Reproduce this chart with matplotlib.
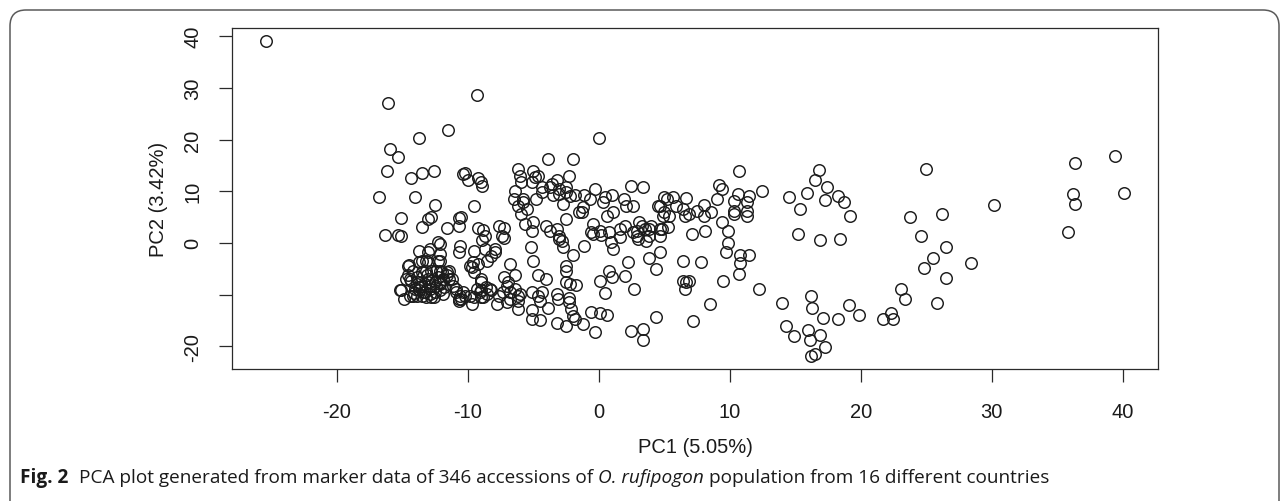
import matplotlib
matplotlib.use("Agg")
import matplotlib.pyplot as plt
from matplotlib.patches import FancyBboxPatch

# PC scores, grouped by region of the plot
pc1_upper_left = [-25.4, -16.1, -9.3, -11.5, -13.7, -15.9, -15.3, -16.2, -14.3, -13.5, -12.6, -10.4, -10.2, -10.0, -9.2,
                  -8.9, -9.0, -16.8, -14.0, -12.5, -9.5, -15.1, -13.5, -13.0, -12.8, -11.6, -10.7, -10.7, -16.3, -15.3,
                  -15.1, -10.5, -9.2, -8.8, -8.7, -8.9, -7.6, -7.2, -7.4, -7.2, -12.3, -10.6, -10.7]
pc2_upper_left = [39.0, 27.0, 28.7, 21.9, 20.3, 18.1, 16.7, 13.9, 12.6, 13.5, 14.0, 13.3, 13.6, 12.1, 12.6,
                  11.1, 11.7, 8.8, 8.8, 7.4, 7.2, 4.8, 3.0, 4.7, 5.1, 2.9, 3.2, 4.8, 1.5, 1.5,
                  1.3, 5.0, 2.9, 2.5, 1.4, 0.6, 3.3, 2.8, 1.4, 1.0, 0.1, -0.5, -1.8]

pc1_upper_mid = [0.05, -3.9, -2.0, -6.2, -6.0, -5.9, -5.0, -4.9, -6.4, -6.5, -5.8, -6.2, -5.9, -5.5, -4.8, -4.3,
                 -3.7, -3.2, -3.0, -2.5, -2.3, -1.8, -1.1, -1.2, -1.5, -0.7, -0.3, -2.5, -4.0, -3.2, -5.0, -5.6,
                 -4.3, -3.6, -2.5, -3.0, -2.2, -2.7, -1.3, -3.5, -5.8, -5.1, -4.6, -3.7, -5.1, -2.8, -3.0]
pc2_upper_mid = [20.3, 16.2, 16.2, 14.3, 13.0, 11.7, 14.0, 12.7, 10.1, 8.5, 8.5, 7.2, 5.6, 6.6, 8.5, 9.8,
                 10.8, 12.1, 10.4, 9.8, 13.0, 9.2, 9.2, 6.9, 5.9, 8.5, 10.4, 4.6, 3.3, 2.7, 4.0, 3.7,
                 10.8, 11.4, 10.8, 9.5, 9.0, 7.5, 5.9, 9.2, 7.9, 11.7, 13.0, 2.4, 2.4, 0.4, 1.4]

pc1_upper_right = [0.5, 1.0, 1.1, 1.9, 2.1, 2.6, 2.5, 3.4, 4.7, 5.2, 5.7, 5.9, 6.4, 6.7, 4.9, 5.4, -0.4, 0.1, 0.8,
                   1.6, 2.0, 2.6, 3.1, 3.5, 4.0, 4.7, 5.3, 0.3, 0.6, -0.6, 5.0, 4.5, 5.0, 8.0, 7.5, 8.6, 8.0, 6.9,
                   6.6, 9.4, 9.0, 7.1, 8.1, 9.9, -0.4, 0.2, 0.9, 1.6, 2.9, 3.6, 4.7, 3.8, 3.0, 4.8, 3.8, 3.3, 2.9]
pc2_upper_right = [8.8, 9.2, 5.9, 8.5, 7.2, 7.2, 11.1, 10.8, 7.2, 8.5, 8.8, 7.2, 6.6, 8.7, 5.3, 5.3, 3.7, 2.4, 2.1,
                   2.7, 3.3, 2.1, 4.0, 2.7, 3.3, 2.7, 3.0, 7.9, 5.3, 2.1, 8.8, 7.2, 5.9, 7.4, 6.1, 5.9, 5.3, 5.6,
                   5.3, 4.0, 8.6, 1.7, 2.3, 2.4, 1.7, 1.6, 0.2, 1.1, 1.4, 0.3, 1.4, 1.4, 0.8, 2.7, 2.7, 3.3, 2.4]

pc1_far_right = [10.7, 9.2, 9.4, 10.6, 11.5, 12.5, 10.3, 11.3, 11.3, 11.3, 10.3, 10.3, 14.5, 15.4, 15.9, 16.8,
                 16.5, 17.4, 17.3, 18.3, 18.7, 19.2, 23.8, 15.2, 16.9, 18.4, 25.0, 26.2, 24.6, 26.5, 25.5, 24.8,
                 26.5, 28.4, 25.8, 30.2, 36.4, 39.4, 36.2, 36.4, 40.1, 35.8]
pc2_far_right = [13.9, 11.2, 10.4, 9.5, 9.0, 10.1, 8.2, 7.9, 6.2, 5.3, 6.2, 5.6, 8.8, 6.6, 9.7, 14.2,
                 12.1, 10.8, 8.3, 9.0, 7.9, 5.2, 5.0, 1.7, 0.6, 0.8, 14.3, 5.6, 1.3, -0.8, -2.9, -4.9,
                 -6.8, -3.9, -11.6, 7.4, 15.4, 16.8, 9.5, 7.5, 9.7, 2.2]

pc1_lower_right = [9.9, 9.7, 10.8, 11.5, 10.8, 10.7, 9.5, 7.8, 6.4, 6.4, 6.9, 6.6, 12.2, 8.5, 7.2, 14.0, 14.3,
                   14.9, 16.2, 16.3, 17.1, 18.3, 19.1, 19.9, 16.0, 16.9, 16.1, 17.3, 16.2, 16.5, 21.7, 22.3,
                   22.5, 23.1, 23.4, 4.4, 6.7]
pc2_lower_right = [0.0, -1.7, -2.3, -2.3, -3.9, -6.1, -7.3, -3.7, -3.5, -7.3, -7.3, -8.9, -8.9, -11.8, -15.2,
                   -11.6, -16.0, -18.1, -10.2, -12.6, -14.6, -14.8, -12.0, -13.9, -16.8, -17.8, -18.7, -20.2,
                   -21.9, -21.5, -14.8, -13.5, -14.8, -8.9, -10.8, -14.3, -7.6]

pc1_lower_mid = [-1.1, 1.1, 4.7, 4.4, 3.8, 2.2, 2.7, 2.0, 3.4, 3.4, 2.5, 0.8, 1.0, 0.5, 0.1, -0.6, 0.1, 0.6,
                 -0.3, -1.2, -1.8, -2.3, -2.1, -2.0, -2.5, -3.2, -3.1, -2.3, -3.9, -4.5, -5.1, -5.1, -4.5, -6.2,
                 -2.5, -2.5, -2.0, -2.7, -3.0, -5.2, -5.0, -4.6, -4.0, -2.2, -1.7, -3.2, -4.3, -5.1, -4.6, -2.5]
pc2_lower_mid = [-0.6, -1.2, -1.8, -5.0, -2.9, -3.6, -9.0, -6.4, -16.6, -18.7, -17.1, -5.4, -6.6, -9.7, -7.4,
                 -13.4, -13.5, -13.9, -17.3, -15.7, -14.7, -11.4, -12.8, -14.2, -16.0, -15.5, -10.8, -10.6,
                 -12.5, -11.2, -13.0, -14.7, -14.9, -12.8, -5.4, -4.4, -2.4, -0.8, 0.8, -0.8, -3.4, -6.3, -7.0,
                 -7.9, -8.1, -9.9, -9.5, -9.5, -10.2, -7.6]

pc1_lower_left = [-9.7, -9.2, -9.5, -9.0, -8.6, -9.1, -9.5, -9.8, -10.4, -10.9, -10.7, -11.2, -11.6, -12.1,
                  -12.3, -12.1, -12.9, -13.7, -13.2, -13.7, -14.6, -14.4, -13.9, -13.7, -13.4, -12.9, -12.6,
                  -12.4, -12.1, -11.9, -13.0, -14.2, -14.9, -15.2, -14.7, -7.2, -6.9, -6.8, -6.4, -6.2, -7.3,
                  -7.0, -6.8, -6.4, -7.9, -8.2, -8.5, -8.7, -9.6, -9.8, -9.0, -9.3, -8.3, -8.5, -9.0, -9.5,
                  -7.9, -6.0, -6.2, -7.0, -7.8, -7.6, -8.2, -9.0, -8.8, -9.7, -10.2, -10.5, -6.8]
pc2_lower_left = [-4.7, -4.1, -5.7, -7.0, -8.6, -9.5, -10.5, -10.2, -9.5, -8.9, -11.2, -7.0, -5.7, -5.4,
                  -3.4, -2.1, -1.2, -1.5, -3.4, -3.7, -4.4, -7.0, -7.9, -8.6, -9.5, -8.9, -10.5,
                  -8.3, -7.6, -7.0, -7.0, -10.2, -10.8, -9.2, -7.0, -6.6, -7.6, -9.5, -8.9, -10.2, -9.5,
                  -8.3, -4.1, -6.3, -1.8, -2.5, -3.4, -1.2, -3.7, -4.4, -7.6, -8.9, -8.9, -9.9, -10.5, -1.5,
                  -1.2, -9.9, -11.2, -11.5, -11.9, -10.2, -9.2, -9.2, -10.5, -11.8, -10.2, -10.8, -10.8]

pc1_dense = [-14.5, -14.2, -13.9, -13.5, -13.2, -12.8, -12.4, -12.0, -11.6, -11.4, -13.7, -13.3, -12.9, -12.5,
             -12.1, -11.8, -14.0, -13.7, -13.3, -12.9, -12.5, -12.1, -13.9, -13.5, -13.2, -12.8, -15.1, -14.4,
             -11.1, -10.9, -10.7, -10.6, -13.0, -12.1, -13.0, -12.1, -13.5, -11.4, -14.6, -14.3, -13.6, -12.7,
             -13.1, -12.3, -14.1, -11.9]
pc2_dense = [-4.3, -5.4, -6.6, -5.7, -5.4, -5.5, -5.4, -5.7, -6.3, -7.0, -7.6, -7.9, -8.3, -7.6,
             -7.9, -8.6, -8.9, -9.2, -9.5, -9.9, -9.5, -9.2, -10.2, -10.2, -10.5, -10.5, -9.2, -10.2,
             -8.3, -9.5, -10.8, -10.2, -3.7, -3.4, -1.7, -0.2, -3.4, -5.4, -6.3, -7.3, -8.3, -7.2,
             -6.3, -6.6, -9.6, -9.9]

x_ticks = [-20, -10, 0, 10, 20, 30, 40]
y_ticks = [-20, -10, 0, 10, 20, 30, 40]
y_tick_labels = ["-20", "", "0", "10", "20", "30", "40"]  # R dropped the -10 label

caption_parts = [("Fig. 2", "bold", "normal"),
                 ("PCA plot generated from marker data of 346 accessions of", "normal", "normal"),
                 ("O. rufipogon", "normal", "italic"),
                 ("population from 16 different countries", "normal", "normal")]

pc1 = (pc1_upper_left + pc1_upper_mid + pc1_upper_right + pc1_far_right +
       pc1_lower_right + pc1_lower_mid + pc1_lower_left + pc1_dense)
pc2 = (pc2_upper_left + pc2_upper_mid + pc2_upper_right + pc2_far_right +
       pc2_lower_right + pc2_lower_mid + pc2_lower_left + pc2_dense)

plt.rcParams['font.family'] = ['Liberation Sans', 'DejaVu Sans']

W, H = 1284, 502
fig = plt.figure(figsize=(W / 100, H / 100), dpi=100)

# rounded frame of the figure panel (bottom runs off the image)
frame = FancyBboxPatch((0.10, -0.40), 12.69, 5.31, boxstyle="round,pad=0,rounding_size=0.16",
                       transform=fig.dpi_scale_trans, fill=False, ec="#5a5a5a", lw=1.1)
fig.add_artist(frame)

ax = fig.add_axes([232 / W, 1 - 370 / H, (1158 - 232) / W, (370 - 29) / H])
ax.plot(pc1, pc2, "o", ls="none", mfc="none", mec="#1c1c1c", ms=8.3, mew=1.05)

ax.set_xlim(-28.0, 42.7)
ax.set_ylim(-24.4, 41.6)
ax.set_xticks(x_ticks)
ax.set_xticklabels([str(t) for t in x_ticks])
ax.set_yticks(y_ticks)
ax.set_yticklabels(y_tick_labels, rotation=90, va="center")

for s in ax.spines.values():
    s.set_linewidth(0.9)
    s.set_color("#2a2a2a")
ax.tick_params(axis="both", direction="out", length=9.5, width=0.9, color="#2a2a2a",
               labelsize=14.5, labelcolor="#1a1a1a")
ax.tick_params(axis="x", pad=14)
ax.tick_params(axis="y", pad=12)

ax.set_xlabel("PC1 (5.05%)", fontsize=14.5, color="#1a1a1a", labelpad=12)
ax.set_ylabel("PC2 (3.42%)", fontsize=14.5, color="#1a1a1a", labelpad=11)

# caption: pieces laid out one after another, scaled to the measured width
renderer = fig.canvas.get_renderer()
cap_family = ["Open Sans", "DejaVu Sans"]
target_w = 1027.0
cap_y = 1 - 478 / H


def draw_caption(size):
    texts = []
    x = 20.0
    for i, (txt, wt, st) in enumerate(caption_parts):
        t = fig.text(x / W, cap_y, txt, fontsize=size, fontweight=wt, style=st,
                     family=cap_family, va="center", ha="left", color="#1a1a1a")
        texts.append(t)
        bb = t.get_window_extent(renderer)
        gap = size * 100 / 72 * (0.55 if i == 0 else 0.26)
        x = bb.x1 + gap
    return texts, x - gap - 20.0


texts, width = draw_caption(12)
for t in texts:
    t.remove()
draw_caption(12 * target_w / width)

fig.savefig("out.png", dpi=100)
